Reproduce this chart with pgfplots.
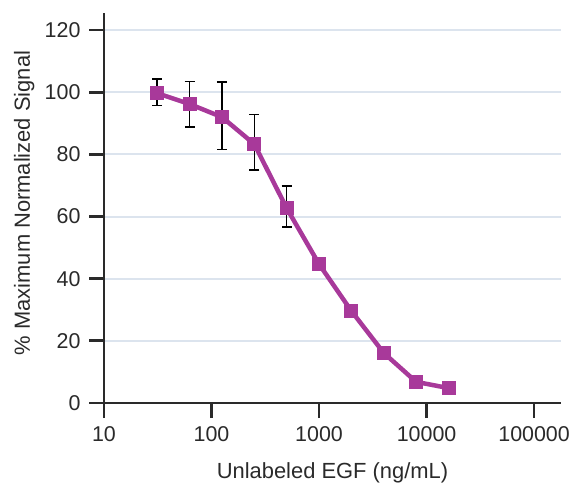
\documentclass[border=0pt]{standalone}
\usepackage{fontspec}
\setmainfont{Liberation Sans}
\usepackage{pgfplots}
\pgfplotsset{compat=1.18}
\definecolor{egf}{HTML}{A8399A}
\definecolor{gridc}{HTML}{DCE4EE}
\definecolor{txt}{HTML}{2A2A2A}
\begin{document}
\begin{tikzpicture}
\begin{axis}[
  scale only axis,
  width=457bp, height=390bp,
  xmode=log, log basis x=10,
  xmin=10, xmax=178000,
  ymin=0, ymax=125.5,
  axis lines=left,
  axis line style={-, line width=2.7bp, draw=txt},
  tick style={line width=2.7bp, draw=txt},
  major tick length=15bp,
  tick align=outside,
  minor tick num=0,
  xtick={10,100,1000,10000,100000},
  xticklabels={10,100,1000,10000,100000},
  ytick={0,20,40,60,80,100,120},
  xminorticks=false,
  ymajorgrids,
  grid style={draw=gridc, line width=2bp},
  tick label style={font=\fontsize{21.5}{25}\selectfont, text=txt},
  /pgf/number format/assume math mode=true,
  xticklabel style={yshift=-5bp},
  yticklabel style={xshift=-5bp},
  xlabel={Unlabeled EGF (ng/mL)},
  ylabel={\% Maximum Normalized Signal},
  label style={font=\fontsize{22}{26}\selectfont, text=txt},
  xlabel style={at={(axis description cs:0.5,0)}, anchor=base, yshift=-75.5bp},
  ylabel style={at={(axis description cs:0,0.5)}, anchor=base, yshift=74bp, xshift=5bp},
  clip=false,
]
\addplot[draw=none, forget plot, mark=none,
  error bars/.cd, y dir=both, y explicit,
  error bar style={draw=black, line width=1.5bp, solid},
  error mark options={draw=black, rotate=90, mark size=5bp, line width=1.5bp, solid}]
  table[x=x, y=y, y error plus=ep, y error minus=em] {
x y ep em
31.25 99.7 4.5 4.0
62.5 96.2 7.2 7.4
125 92.0 11.3 10.5
250 83.3 9.5 8.3
500 62.7 7.1 6.0
};
\addplot[color=egf, line width=4.5bp, mark=square*, mark size=6.5bp,
  mark options={solid, line width=0pt, fill=egf, draw=egf}]
  table[x=x, y=y] {
x y
31.25 99.7
62.5 96.2
125 92.0
250 83.3
500 62.7
1000 44.7
2000 29.6
4000 16.1
8000 6.8
16000 4.8
};
\coordinate (O) at (rel axis cs:0,0);
\end{axis}
\pgfresetboundingbox
\path ([shift={(-104bp,-81bp)}]O) rectangle ([shift={(470bp,403bp)}]O);
\end{tikzpicture}
\end{document}
